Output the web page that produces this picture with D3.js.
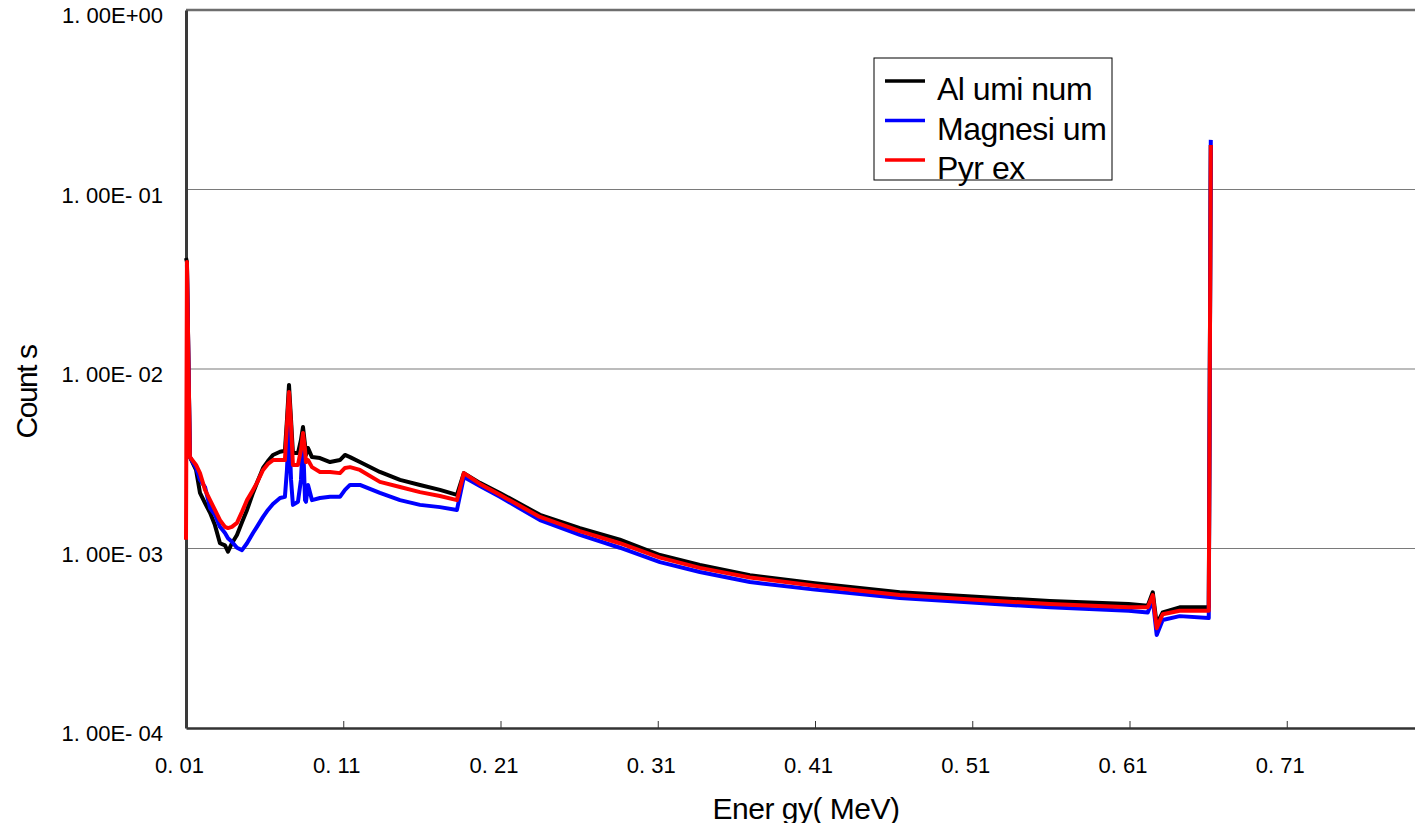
<!DOCTYPE html>
<html>
<head>
<meta charset="utf-8">
<script src="https://d3js.org/d3.v7.min.js"></script>
<style>
  body { margin: 0; background: #fff; }
  text { font-family: "Liberation Sans", Arial, sans-serif; fill: #000; }
</style>
</head>
<body>
<div id="chart"></div>
<script>

// energies (MeV)
var energy = [0.0100, 0.0106, 0.0125, 0.0164, 0.0189, 0.0221, 0.0253, 0.0284, 0.0316, 0.0348,
  0.0367, 0.0392, 0.0424, 0.0456, 0.0488, 0.0526, 0.0551, 0.0590, 0.0621, 0.0653,
  0.0698, 0.0729, 0.0742, 0.0755, 0.0768, 0.0780, 0.0812, 0.0831, 0.0844, 0.0857,
  0.0863, 0.0876, 0.0901, 0.0952, 0.1016, 0.1079, 0.1111, 0.1143, 0.1206, 0.1333,
  0.1461, 0.1588, 0.1715, 0.1823, 0.1867, 0.1969, 0.2096, 0.2351, 0.2605, 0.2859,
  0.3114, 0.3368, 0.3686, 0.4099, 0.4639, 0.5097, 0.5593, 0.6095, 0.6216, 0.6248,
  0.6273, 0.6311, 0.6419, 0.6604, 0.6617];

var aluminum = [0.0415, 0.0395, 0.00323, 0.00274, 0.00204, 0.00179, 0.00158, 0.00135, 0.00107, 0.00104,
  0.00096, 0.00107, 0.00119, 0.00140, 0.00164, 0.00204, 0.00232, 0.00281, 0.00307, 0.00332,
  0.00346, 0.00350, 0.00520, 0.00815, 0.00520, 0.00340, 0.00340, 0.00402, 0.00475, 0.00377,
  0.00332, 0.00363, 0.00323, 0.00319, 0.00303, 0.00311, 0.00332, 0.00323, 0.00303, 0.00267,
  0.00241, 0.00226, 0.00212, 0.00199, 0.00263, 0.00232, 0.00204, 0.00154, 0.00130, 0.00112,
  0.00092, 0.00081, 0.00071, 0.00064, 0.00057, 0.00054, 0.00051, 0.00049, 0.00048, 0.00057,
  0.00038, 0.00044, 0.00047, 0.00047, 0.177];

var magnesium = [0.0380, 0.0380, 0.00323, 0.00281, 0.00241, 0.00220, 0.00168, 0.00154, 0.00132, 0.00122,
  0.00114, 0.00109, 0.00101, 0.00098, 0.00107, 0.00122, 0.00132, 0.00150, 0.00164, 0.00177,
  0.00191, 0.00194, 0.00274, 0.00488, 0.00241, 0.00175, 0.00182, 0.00241, 0.00402, 0.00186,
  0.00182, 0.00226, 0.00186, 0.00191, 0.00194, 0.00194, 0.00212, 0.00226, 0.00226, 0.00204,
  0.00186, 0.00175, 0.00170, 0.00164, 0.00250, 0.00223, 0.00194, 0.00144, 0.00119, 0.00101,
  0.00084, 0.00074, 0.00065, 0.00059, 0.00053, 0.00050, 0.00047, 0.00045, 0.00044, 0.00052,
  0.00033, 0.00040, 0.00042, 0.00041, 0.189];

var pyrex = [0.00112, 0.0395, 0.00323, 0.00292, 0.00263, 0.00212, 0.00186, 0.00164, 0.00144, 0.00132,
  0.00130, 0.00132, 0.00139, 0.00160, 0.00186, 0.00212, 0.00232, 0.00274, 0.00296, 0.00311,
  0.00311, 0.00311, 0.00488, 0.00744, 0.00488, 0.00292, 0.00292, 0.00354, 0.00440, 0.00354,
  0.00303, 0.00311, 0.00284, 0.00267, 0.00267, 0.00263, 0.00281, 0.00284, 0.00274, 0.00235,
  0.00220, 0.00206, 0.00196, 0.00186, 0.00263, 0.00229, 0.00199, 0.00150, 0.00125, 0.00107,
  0.00089, 0.00078, 0.00069, 0.00062, 0.00055, 0.00052, 0.00049, 0.00047, 0.00047, 0.00055,
  0.00036, 0.00043, 0.00045, 0.00045, 0.177];

var seriesNames = ["Al umi num", "Magnesi um", "Pyr ex"];
var seriesColors = ["#000000", "#0000ff", "#ff0000"];

var xTicks = [0.01, 0.11, 0.21, 0.31, 0.41, 0.51, 0.61, 0.71];
var xTickLabels = ["0. 01", "0. 11", "0. 21", "0. 31", "0. 41", "0. 51", "0. 61", "0. 71"];
var yTicks = [1, 0.1, 0.01, 0.001, 0.0001];
var yTickLabels = ["1. 00E+00", "1. 00E- 01", "1. 00E- 02", "1. 00E- 03", "1. 00E- 04"];

// layout
var margin = {top: 10, left: 186},
    width = 1258,
    height = 718;

var svg = d3.select("#chart")
  .append("svg")
    .attr("width", 1415)
    .attr("height", 823)
  .append("g")
    .attr("transform", "translate(" + margin.left + "," + margin.top + ")");

var x = d3.scaleLinear().domain([0.01, 0.81]).range([0, width]);
var y = d3.scaleLog().domain([0.0001, 1]).range([height, 0]);

// grid lines
svg.append("g")
  .selectAll("line")
  .data([0.1, 0.01, 0.001])
  .enter().append("line")
    .attr("x1", 0)
    .attr("x2", width)
    .attr("y1", function(d) { return y(d); })
    .attr("y2", function(d) { return y(d); })
    .attr("stroke", "#7a7a7a")
    .attr("stroke-width", 1.2);

// top border
svg.append("line")
  .attr("x1", 0).attr("x2", width)
  .attr("y1", 0).attr("y2", 0)
  .attr("stroke", "#6e6e6e")
  .attr("stroke-width", 2.5);

// x axis, ticks pointing inward
var xAxis = svg.append("g")
  .attr("transform", "translate(0," + height + ")")
  .call(d3.axisBottom(x)
    .tickValues(xTicks)
    .tickSize(-7)
    .tickSizeOuter(0)
    .tickFormat(function(d, i) { return xTickLabels[i]; }));
xAxis.select(".domain").attr("stroke", "#333").attr("stroke-width", 2.5);
xAxis.selectAll(".tick line").attr("stroke", "#333").attr("stroke-width", 1);
xAxis.selectAll(".tick text")
  .attr("y", 37)
  .attr("dy", "0.35em")
  .attr("dx", -7)
  .style("font-size", "22px")
  .style("font-family", "Liberation Sans, Arial, sans-serif");

// y axis
var yAxis = svg.append("g")
  .call(d3.axisLeft(y)
    .tickValues(yTicks)
    .tickSize(0)
    .tickPadding(23)
    .tickFormat(function(d, i) { return yTickLabels[i]; }));
yAxis.select(".domain").attr("stroke", "#3a3a3a").attr("stroke-width", 3);
yAxis.selectAll(".tick text")
  .attr("dy", "0.35em")
  .attr("y", 5)
  .style("font-size", "22px")
  .style("font-family", "Liberation Sans, Arial, sans-serif");

// axis titles
svg.append("text")
  .attr("x", 806 - margin.left)
  .attr("y", 808 - margin.top)
  .attr("dy", "0.35em")
  .style("text-anchor", "middle")
  .style("font-size", "30px")
  .style("letter-spacing", "-0.5px")
  .text("Ener gy( MeV)");

svg.append("text")
  .attr("transform", "translate(" + (26 - margin.left) + "," + (392 - margin.top) + ") rotate(-90)")
  .attr("dy", "0.35em")
  .style("text-anchor", "middle")
  .style("font-size", "30px")
  .style("letter-spacing", "-1.5px")
  .text("Count s");

// lines
var line = d3.line()
  .x(function(d) { return x(d[0]); })
  .y(function(d) { return y(d[1]); });

[aluminum, magnesium, pyrex].forEach(function(vals, k) {
  svg.append("path")
    .datum(energy.map(function(e, i) { return [e, vals[i]]; }))
    .attr("fill", "none")
    .attr("stroke", seriesColors[k])
    .attr("stroke-width", 4)
    .attr("stroke-linejoin", "round")
    .attr("d", line);
});

// legend
var legend = svg.append("g")
  .attr("transform", "translate(" + (874 - margin.left) + "," + (58 - margin.top) + ")");

legend.append("rect")
  .attr("width", 238)
  .attr("height", 122)
  .attr("fill", "#fff");

seriesNames.forEach(function(name, i) {
  legend.append("line")
    .attr("x1", 11).attr("x2", 51)
    .attr("y1", 23 + i * 39.5).attr("y2", 23 + i * 39.5)
    .attr("stroke", seriesColors[i])
    .attr("stroke-width", 3.5);
  legend.append("text")
    .attr("x", 63)
    .attr("y", 31 + i * 39.5)
    .attr("dy", "0.35em")
    .style("font-size", "32px")
    .style("letter-spacing", "-0.5px")
    .text(name);
});

legend.append("rect")
  .attr("width", 238)
  .attr("height", 122)
  .attr("fill", "none")
  .attr("stroke", "#000")
  .attr("stroke-width", 1);

</script>
</body>
</html>
